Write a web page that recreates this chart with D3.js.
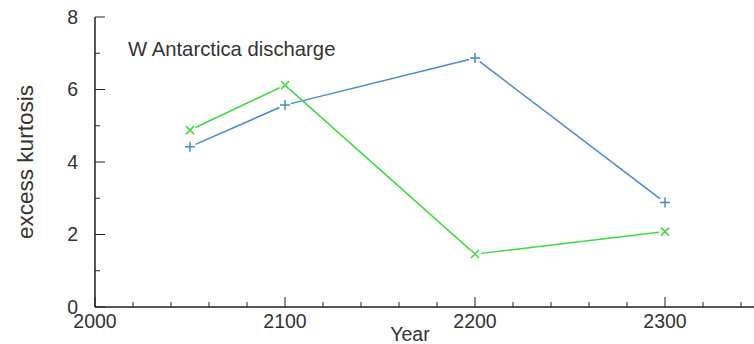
<!DOCTYPE html>
<html><head><meta charset="utf-8">
<script src="https://cdn.jsdelivr.net/npm/d3@7"></script>
<style>body{margin:0;background:#fff}text{font-family:"Liberation Sans",Arial,sans-serif;fill:#333}</style>
</head><body>
<svg id="c" width="754" height="344"></svg>
<script>
const years = [2050, 2100, 2200, 2300];
const blueSeries = [4.42, 5.57, 6.87, 2.88];
const greenSeries = [4.88, 6.12, 1.46, 2.08];
const xMajorTicks = [2000, 2100, 2200, 2300];
const yMajorTicks = [0, 2, 4, 6, 8];
const title = "W Antarctica discharge";

const svg = d3.select("#c");
const x = d3.scaleLinear().domain([2000, 2350]).range([95, 760]);
const y = d3.scaleLinear().domain([0, 8]).range([307, 17]);

svg.append("line").attr("x1",95).attr("x2",754).attr("y1",307).attr("y2",307).attr("stroke","#222").attr("stroke-width",1.5);
svg.append("line").attr("x1",95).attr("x2",95).attr("y1",17).attr("y2",307).attr("stroke","#222").attr("stroke-width",1.5);

d3.range(2000, 2360, 20).forEach(v=>{
  const maj = v % 100 === 0;
  svg.append("line").attr("x1",x(v)).attr("x2",x(v)).attr("y1",307).attr("y2",307-(maj?10:5)).attr("stroke","#222");
});
xMajorTicks.forEach(v=>{
  svg.append("text").attr("x",x(v)).attr("y",328).attr("text-anchor","middle").attr("font-size",19.5).text(v);
});
d3.range(0, 8.01, 1).forEach(v=>{
  const maj = v % 2 === 0;
  svg.append("line").attr("x1",95).attr("x2",95+(maj?10:5)).attr("y1",y(v)).attr("y2",y(v)).attr("stroke","#222");
});
yMajorTicks.forEach(v=>{
  svg.append("text").attr("x",78).attr("y",y(v)+6.5).attr("text-anchor","end").attr("font-size",19.5).text(v);
});

svg.append("text").attr("x",410).attr("y",341).attr("text-anchor","middle").attr("font-size",19.5).text("Year");
svg.append("text").attr("transform","translate(33,162) rotate(-90)").attr("text-anchor","middle").attr("font-size",22.5).text("excess kurtosis");
svg.append("text").attr("x",128).attr("y",56).attr("font-size",20.3).text(title);

function drawSeries(vals, color, marker){
  const pts = years.map((yr,i)=>[x(yr), y(vals[i])]);
  const gap = 6;
  for(let i=0;i<pts.length-1;i++){
    const [x1,y1]=pts[i],[x2,y2]=pts[i+1];
    const dx=x2-x1, dy=y2-y1, L=Math.hypot(dx,dy);
    svg.append("line")
      .attr("x1",x1+dx/L*gap).attr("y1",y1+dy/L*gap)
      .attr("x2",x2-dx/L*gap).attr("y2",y2-dy/L*gap)
      .attr("stroke",color).attr("stroke-width",1.5);
  }
  const s=5;
  pts.forEach(([px,py])=>{
    if(marker==="+"){
      svg.append("path").attr("d",`M${px-s},${py}H${px+s}M${px},${py-s}V${py+s}`).attr("stroke",color).attr("stroke-width",1.5);
    } else {
      const t=4;
      svg.append("path").attr("d",`M${px-t},${py-t}L${px+t},${py+t}M${px-t},${py+t}L${px+t},${py-t}`).attr("stroke",color).attr("stroke-width",1.5);
    }
  });
}
drawSeries(blueSeries, "#4389d6", "+");
drawSeries(greenSeries, "#3ddc3d", "x");
</script>
</body></html>
